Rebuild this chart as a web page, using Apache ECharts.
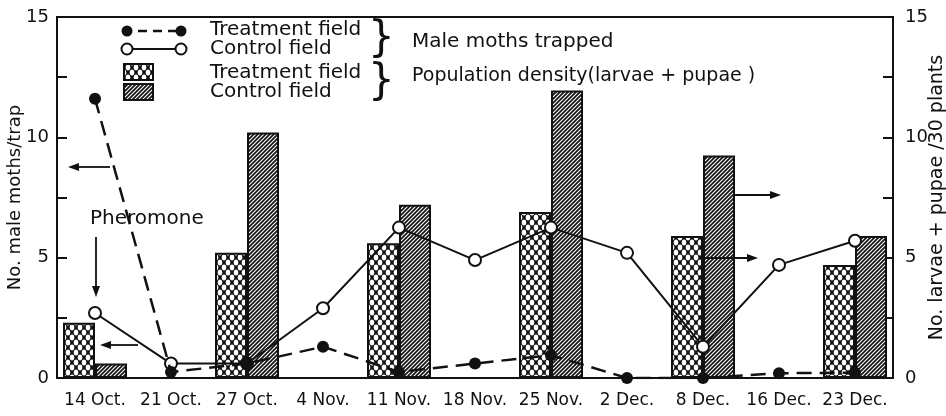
<!DOCTYPE html>
<html>
<head>
<meta charset="utf-8">
<script src="https://cdn.jsdelivr.net/npm/echarts@6/dist/echarts.min.js"></script>
<style>
  html, body { margin: 0; padding: 0; background: #fff; }
  #main { width: 946px; height: 416px; }
</style>
</head>
<body>
<div id="main"></div>
<script>
// dates of sampling
var dates = ['14 Oct.', '21 Oct.', '27 Oct.', '4 Nov.', '11 Nov.', '18 Nov.', '25 Nov.', '2 Dec.', '8 Dec.', '16 Dec.', '23 Dec.'];

// male moths trapped (left axis)
var mothsTreatment = [11.6, 0.25, 0.6, 1.3, 0.25, 0.6, 0.95, 0, 0, 0.2, 0.22];
var mothsControl = [2.7, 0.6, 0.6, 2.9, 6.25, 4.9, 6.25, 5.2, 1.3, 4.7, 5.7];

// population density, larvae + pupae / 30 plants (right axis)
var densTreatment = [2.3, null, 5.2, null, 5.6, null, 6.9, null, 5.9, null, 4.7];
var densControl = [0.6, null, 10.2, null, 7.2, null, 11.95, null, 9.25, null, 5.9];

var yTicks = [0, 5, 10, 15];

var FONT = 'DejaVu Sans';

function crossPattern() {
    var c = document.createElement('canvas');
    c.width = 8; c.height = 10;
    var g = c.getContext('2d');
    g.fillStyle = '#111';
    g.fillRect(0, 0, 8, 10);
    g.fillStyle = '#fff';
    var pts = [[4, 2.5], [0, 7.5], [8, 7.5], [4, 12.5], [0, -2.5], [8, -2.5]];
    for (var i = 0; i < pts.length; i++) {
        g.beginPath();
        g.ellipse(pts[i][0], pts[i][1], 2.3, 2.9, 0, 0, Math.PI * 2);
        g.fill();
    }
    return c;
}

function hatchPattern() {
    var c = document.createElement('canvas');
    c.width = 4; c.height = 4;
    var g = c.getContext('2d');
    g.fillStyle = '#fff';
    g.fillRect(0, 0, 4, 4);
    g.strokeStyle = '#111';
    g.lineWidth = 1.7;
    g.beginPath();
    g.moveTo(-1, 5); g.lineTo(5, -1);
    g.moveTo(-1, 1); g.lineTo(1, -1);
    g.moveTo(3, 5); g.lineTo(5, 3);
    g.stroke();
    return c;
}

var crossFill = { image: crossPattern(), repeat: 'repeat' };
var hatchFill = { image: hatchPattern(), repeat: 'repeat' };

function arrow(x1, y1, x2, y2) {
    var ang = Math.atan2(y2 - y1, x2 - x1);
    var L = 11, W = 4;
    var bx = x2 - L * Math.cos(ang), by = y2 - L * Math.sin(ang);
    var px = -Math.sin(ang) * W, py = Math.cos(ang) * W;
    return [
        { type: 'line', shape: { x1: x1, y1: y1, x2: bx, y2: by }, style: { stroke: '#111', lineWidth: 1.8 }, z: 20 },
        { type: 'polygon', shape: { points: [[x2, y2], [bx + px, by + py], [bx - px, by - py]] }, style: { fill: '#111' }, z: 20 }
    ];
}

function txt(x, y, s, size) {
    return { type: 'text', x: x, y: y, z: 20,
        style: { text: s, font: (size || 20) + 'px "' + FONT + '"', fill: '#111', textVerticalAlign: 'middle' } };
}

var graphics = [];
// legend: lines
graphics.push({ type: 'line', shape: { x1: 123, y1: 31, x2: 182, y2: 31 }, style: { stroke: '#111', lineWidth: 2.5, lineDash: [9, 6] }, z: 20 });
graphics.push({ type: 'circle', shape: { cx: 127, cy: 31, r: 5.5 }, style: { fill: '#111' }, z: 21 });
graphics.push({ type: 'circle', shape: { cx: 181, cy: 31, r: 5.5 }, style: { fill: '#111' }, z: 21 });
graphics.push({ type: 'line', shape: { x1: 123, y1: 49, x2: 182, y2: 49 }, style: { stroke: '#111', lineWidth: 2 }, z: 20 });
graphics.push({ type: 'circle', shape: { cx: 127, cy: 49, r: 5.5 }, style: { fill: '#fff', stroke: '#111', lineWidth: 2 }, z: 21 });
graphics.push({ type: 'circle', shape: { cx: 181, cy: 49, r: 5.5 }, style: { fill: '#fff', stroke: '#111', lineWidth: 2 }, z: 21 });
// legend: bars
graphics.push({ type: 'rect', shape: { x: 124, y: 64, width: 29, height: 16 }, style: { fill: crossFill, stroke: '#111', lineWidth: 2 }, z: 20 });
graphics.push({ type: 'rect', shape: { x: 124, y: 84, width: 29, height: 16 }, style: { fill: hatchFill, stroke: '#111', lineWidth: 2 }, z: 20 });
graphics.push(txt(210, 30, 'Treatment field'));
graphics.push(txt(210, 49, 'Control field'));
graphics.push(txt(210, 73, 'Treatment field'));
graphics.push(txt(210, 92, 'Control field'));
graphics.push(txt(368, 40, '}', 42));
graphics.push(txt(368, 83, '}', 42));
graphics.push(txt(412, 42, 'Male moths trapped'));
graphics.push(txt(412, 76, 'Population density(larvae + pupae )', 19));
graphics.push(txt(90, 219, 'Pheromone'));
graphics = graphics.concat(arrow(96, 237, 96, 297));
graphics = graphics.concat(arrow(110, 167, 68, 167));
graphics = graphics.concat(arrow(138, 345, 100, 345));
graphics = graphics.concat(arrow(735, 195, 781, 195));
graphics = graphics.concat(arrow(700, 258, 758, 258));

var yLabelFmt = function (v) {
    return yTicks.indexOf(v) >= 0 ? String(v) : '';
};

var myChart = echarts.init(document.getElementById('main'));
var option = {
    animation: false,
    textStyle: { fontFamily: FONT },
    grid: {
        left: 57, right: 53, top: 17, bottom: 38,
        containLabel: false, outerBoundsMode: 'none',
        show: true, borderColor: '#111', borderWidth: 2, backgroundColor: 'transparent'
    },
    xAxis: {
        type: 'category',
        data: dates,
        boundaryGap: true,
        axisLine: { lineStyle: { color: '#111', width: 2 } },
        axisTick: { alignWithLabel: true, length: 6, lineStyle: { color: '#111', width: 2 } },
        axisLabel: { color: '#111', fontFamily: FONT, fontSize: 17, margin: 14, interval: 0 }
    },
    yAxis: [
        {
            type: 'value', min: 0, max: 15, interval: 2.5, position: 'left',
            name: 'No. male moths/trap', nameLocation: 'middle', nameGap: 33, nameRotate: 90,
            nameMoveOverlap: false,
            nameTextStyle: { color: '#111', fontFamily: FONT, fontSize: 18 },
            axisLine: { show: true, lineStyle: { color: '#111', width: 2 } },
            axisTick: { show: true, inside: true, length: 10, lineStyle: { color: '#111', width: 2 } },
            axisLabel: { color: '#111', fontFamily: FONT, fontSize: 18, margin: 8, formatter: yLabelFmt },
            splitLine: { show: false }
        },
        {
            type: 'value', min: 0, max: 15, interval: 2.5, position: 'right',
            name: 'No. larvae + pupae /30 plants', nameLocation: 'middle', nameGap: 35, nameRotate: 90,
            nameMoveOverlap: false,
            nameTextStyle: { color: '#111', fontFamily: FONT, fontSize: 19 },
            axisLine: { show: true, lineStyle: { color: '#111', width: 2 } },
            axisTick: { show: true, inside: true, length: 10, lineStyle: { color: '#111', width: 2 } },
            axisLabel: { color: '#111', fontFamily: FONT, fontSize: 18, margin: 12, formatter: yLabelFmt },
            splitLine: { show: false }
        }
    ],
    series: [
        {
            name: 'Treatment field (density)', type: 'bar', yAxisIndex: 1,
            data: densTreatment, barWidth: 32, barGap: '0%',
            itemStyle: { color: crossFill, borderColor: '#111', borderWidth: 2 }, z: 2
        },
        {
            name: 'Control field (density)', type: 'bar', yAxisIndex: 1,
            data: densControl, barWidth: 32, barGap: '0%',
            itemStyle: { color: hatchFill, borderColor: '#111', borderWidth: 2 }, z: 2
        },
        {
            name: 'Control field (moths)', type: 'line', yAxisIndex: 0,
            data: mothsControl, symbol: 'circle', symbolSize: 12,
            lineStyle: { color: '#111', width: 2 },
            itemStyle: { color: '#fff', borderColor: '#111', borderWidth: 2 }, z: 5
        },
        {
            name: 'Treatment field (moths)', type: 'line', yAxisIndex: 0,
            data: mothsTreatment, symbol: 'circle', symbolSize: 12,
            lineStyle: { color: '#111', width: 2.5, type: [15, 8] },
            itemStyle: { color: '#111' }, z: 6
        }
    ],
    graphic: graphics
};
myChart.setOption(option);
</script>
</body>
</html>
